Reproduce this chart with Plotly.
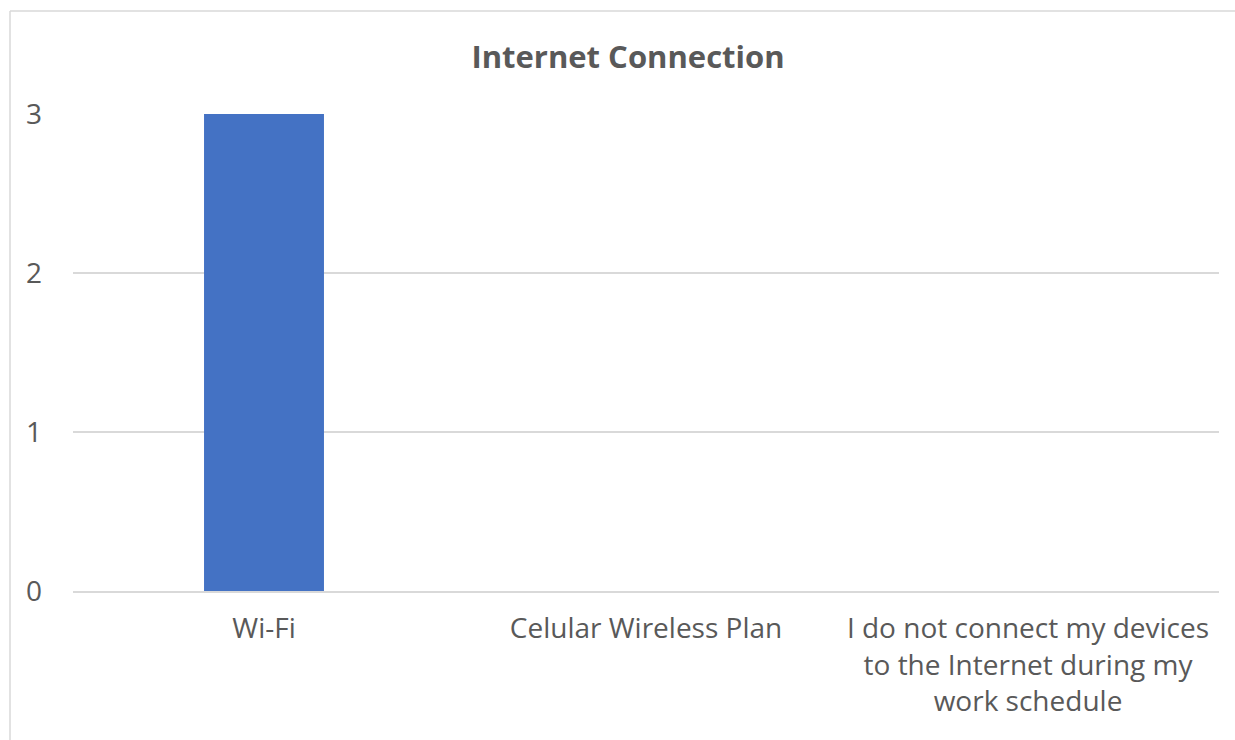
import plotly.graph_objects as go

# Survey responses: how respondents connect to the Internet
categories = [
    "Wi-Fi",
    "Celular Wireless Plan",
    "I do not connect my devices<br>to the Internet during my<br>work schedule",
]
counts = [3, 0, 0]
y_ticks = [0, 1, 2, 3]

W, H = 1235, 740
ML, MR, MT, MB = 73, 16, 114, 149
plot_w = W - ML - MR
plot_h = H - MT - MB

text_color = "#595959"
grid_color = "#d9d9d9"
font_family = "Open Sans, Noto Sans, sans-serif"

fig = go.Figure(
    go.Bar(
        x=categories,
        y=counts,
        marker=dict(color="#4472C4", line=dict(width=0)),
        width=0.314,
    )
)

# Outer chart frame: only its left and top edges fall inside the figure
fx0 = (10 - ML) / plot_w
fx1 = (W + 40 - ML) / plot_w
fy0 = (H - MB - (H + 40)) / plot_h
fy1 = (H - MB - 11) / plot_h
frame = dict(color=grid_color, width=1.5)
fig.add_shape(type="line", xref="paper", yref="paper",
              x0=fx0, x1=fx0, y0=fy0, y1=fy1, line=frame, layer="below")
fig.add_shape(type="line", xref="paper", yref="paper",
              x0=fx0, x1=fx1, y0=fy1, y1=fy1, line=frame, layer="below")

fig.update_layout(
    width=W,
    height=H,
    margin=dict(l=ML, r=MR, t=MT, b=MB, pad=0),
    paper_bgcolor="white",
    plot_bgcolor="white",
    showlegend=False,
    title=dict(
        text="<b>Internet Connection</b>",
        x=628 / W,
        xanchor="center",
        y=1 - 57 / H,
        yanchor="middle",
        font=dict(family=font_family, size=31, color=text_color),
    ),
    font=dict(family=font_family, size=28, color=text_color),
    xaxis=dict(
        showgrid=False,
        showline=True,
        linecolor=grid_color,
        linewidth=1.5,
        ticks="",
        tickfont=dict(size=28, color=text_color),
        ticklabelstandoff=12,
        fixedrange=True,
    ),
    yaxis=dict(
        range=[0, 3],
        tickvals=y_ticks,
        showgrid=True,
        gridcolor=grid_color,
        gridwidth=1.5,
        zeroline=False,
        showline=False,
        ticks="",
        tickfont=dict(size=28, color=text_color),
        ticklabelstandoff=30,
        fixedrange=True,
    ),
)

fig.write_html("out.html")
